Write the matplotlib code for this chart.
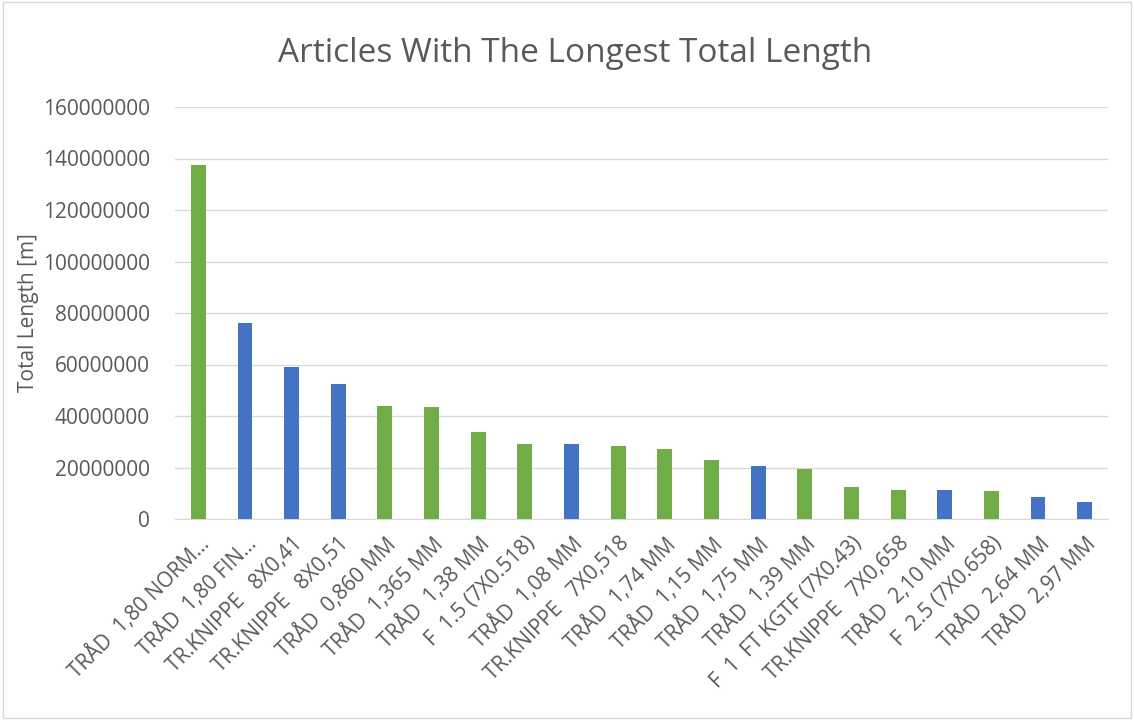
import numpy as np
import matplotlib.pyplot as plt
from matplotlib.patches import Rectangle

plt.rcParams['font.family'] = ['Open Sans', 'DejaVu Sans']

# article names and total length [m]
articles = ['TRÅD  1,80 NORM...', 'TRÅD  1,80 FIN...', 'TR.KNIPPE   8X0,41',
            'TR.KNIPPE   8X0,51', 'TRÅD  0,860 MM', 'TRÅD  1,365 MM',
            'TRÅD  1,38 MM', 'F  1.5 (7X0.518)', 'TRÅD  1,08 MM',
            'TR.KNIPPE   7X0,518', 'TRÅD  1,74 MM', 'TRÅD  1,15 MM',
            'TRÅD  1,75 MM', 'TRÅD  1,39 MM', 'F  1  FT KGTF (7X0.43)',
            'TR.KNIPPE   7X0,658', 'TRÅD  2,10 MM', 'F  2.5 (7X0.658)',
            'TRÅD  2,64 MM', 'TRÅD  2,97 MM']
lengths = [137500000, 76200000, 59100000, 52300000, 43800000, 43500000,
           33700000, 29100000, 29100000, 28500000, 27200000, 22900000,
           20600000, 19300000, 12300000, 11400000, 11400000, 10700000,
           8400000, 6600000]
groups = ['g', 'b', 'b', 'b', 'g', 'g', 'g', 'g', 'b', 'g',
          'g', 'g', 'b', 'g', 'g', 'g', 'b', 'g', 'b', 'b']

palette = {'g': '#70AD47', 'b': '#4472C4'}
text_col = '#595959'

fig = plt.figure(figsize=(11.34, 7.2), dpi=100)
ax = fig.add_axes([175 / 1134, 1 - 519 / 720, 933 / 1134, 412 / 720])

x = np.arange(len(articles))
ax.bar(x, lengths, width=0.32, color=[palette[g] for g in groups], zorder=3)

ax.set_xlim(-0.5, len(articles) - 0.5)
ax.set_ylim(0, 160000000)
ax.set_yticks(np.arange(0, 160000001, 20000000))
ax.yaxis.set_major_formatter(plt.FuncFormatter(lambda v, p: f'{int(v)}'))
ax.grid(axis='y', color='#D9D9D9', linewidth=1, zorder=0)
for s in ['top', 'right', 'left']:
    ax.spines[s].set_visible(False)
ax.spines['bottom'].set_color('#D9D9D9')
ax.tick_params(axis='both', length=0, colors=text_col, labelsize=15)
ax.tick_params(axis='y', pad=18)

ax.set_xticks(x)
ax.set_xticklabels(articles, rotation=45, ha='right', rotation_mode='anchor')
ax.tick_params(axis='x', pad=10)

ax.set_ylabel('Total Length [m]', fontsize=15, color=text_col)
ax.yaxis.set_label_coords(-0.146, 0.5)

fig.text(575 / 1134, 1 - 53 / 720, 'Articles With The Longest Total Length',
         ha='center', va='center', fontsize=24, color=text_col)

# chart border
fig.patches.append(Rectangle((0.003, 0.003), 0.994, 0.994, transform=fig.transFigure,
                             fill=False, edgecolor='#D9D9D9', linewidth=1))

fig.savefig('out.png', dpi=100)
